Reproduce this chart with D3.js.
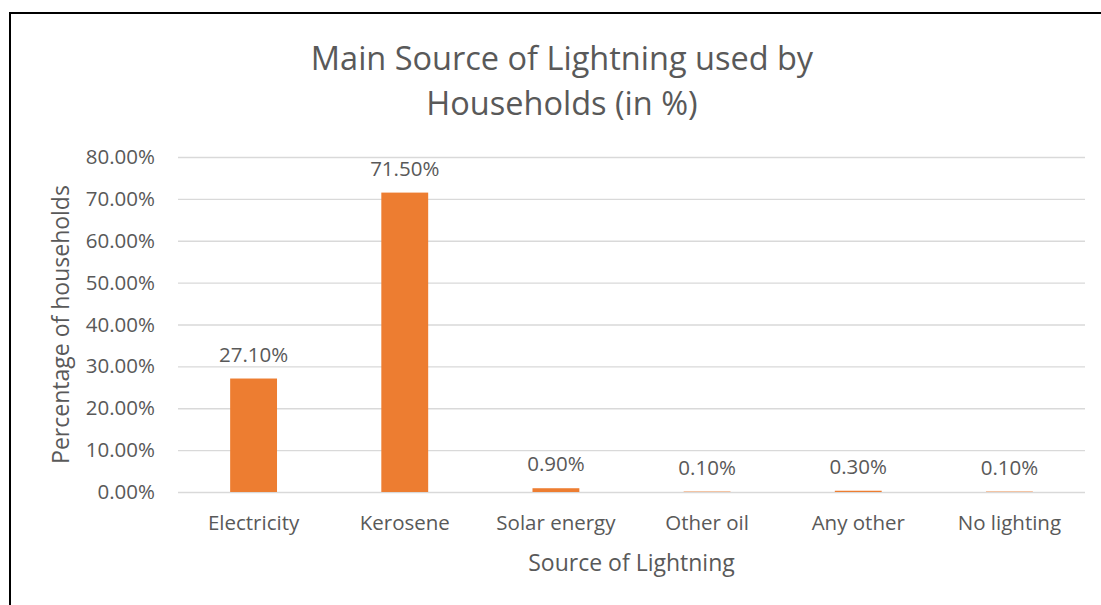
<!DOCTYPE html>
<html>
<head>
<meta charset="utf-8">
<script src="https://cdn.jsdelivr.net/npm/d3@7"></script>
<style>
  body { margin: 0; background: #fff; }
  text { font-family: "Open Sans", "Noto Sans", sans-serif; fill: #595959; }
</style>
</head>
<body>
<script>
// chart data
const categories = ["Electricity", "Kerosene", "Solar energy", "Other oil", "Any other", "No lighting"];
const values = [27.1, 71.5, 0.9, 0.1, 0.3, 0.1];
const yTicks = [0, 10, 20, 30, 40, 50, 60, 70, 80];
const titleLines = ["Main Source of Lightning used by", "Households (in %)"];

const W = 1101, H = 605;
const margin = { top: 157, right: 16, bottom: 113, left: 178 };
const width = W - margin.left - margin.right;
const height = H - margin.top - margin.bottom;
const fs = 20.5;

const svg = d3.select("body").append("svg")
    .attr("width", W)
    .attr("height", H);

// outer frame (only left and top edges show in the picture)
svg.append("path")
    .attr("d", "M10 " + H + " L10 13 L" + W + " 13")
    .attr("fill", "none")
    .attr("stroke", "#000")
    .attr("stroke-width", 2);

const g = svg.append("g")
    .attr("transform", "translate(" + margin.left + "," + margin.top + ")");

const x = d3.scaleBand()
    .domain(categories)
    .range([0, width])
    .paddingInner(0.69)
    .paddingOuter(0.345);

const y = d3.scaleLinear()
    .domain([0, 80])
    .range([height, 0]);

// grid lines + y labels
const yAxis = d3.axisLeft(y)
    .tickValues(yTicks)
    .tickSize(-width)
    .tickPadding(23)
    .tickFormat(d => d.toFixed(2) + "%");

g.append("g")
    .call(yAxis)
    .call(s => s.select(".domain").remove())
    .call(s => s.selectAll(".tick line").attr("stroke", "#d9d9d9").attr("stroke-width", 1.3))
    .call(s => s.selectAll(".tick text")
        .attr("font-size", fs)
        .attr("fill", "#595959")
        .style("font-family", "'Open Sans', sans-serif"));

// x labels
const xAxis = d3.axisBottom(x).tickSize(0).tickPadding(23);
g.append("g")
    .attr("transform", "translate(0," + height + ")")
    .call(xAxis)
    .call(s => s.select(".domain").remove())
    .call(s => s.selectAll(".tick text")
        .attr("font-size", fs)
        .attr("fill", "#595959")
        .style("font-family", "'Open Sans', sans-serif"));

// bars
g.selectAll(".bar")
    .data(values)
    .join("rect")
    .attr("class", "bar")
    .attr("x", (d, i) => x(categories[i]))
    .attr("y", d => y(d))
    .attr("width", x.bandwidth())
    .attr("height", d => height - y(d))
    .attr("fill", "#ed7d31");

// data labels
g.selectAll(".lbl")
    .data(values)
    .join("text")
    .attr("class", "lbl")
    .attr("x", (d, i) => x(categories[i]) + x.bandwidth() / 2)
    .attr("y", d => y(d) - 17)
    .attr("text-anchor", "middle")
    .attr("font-size", fs)
    .attr("fill", "#404040")
    .text(d => d.toFixed(2) + "%");

// title
svg.append("text")
    .attr("x", 562)
    .attr("y", 70)
    .attr("text-anchor", "middle")
    .attr("font-size", 32.5)
    .selectAll("tspan")
    .data(titleLines)
    .join("tspan")
    .attr("x", 562)
    .attr("dy", (d, i) => i ? 45 : 0)
    .text(d => d);

// axis titles
svg.append("text")
    .attr("x", margin.left + width / 2)
    .attr("y", 571)
    .attr("text-anchor", "middle")
    .attr("font-size", 23)
    .text("Source of Lightning");

svg.append("text")
    .attr("transform", "translate(69," + (margin.top + height / 2) + ") rotate(-90)")
    .attr("text-anchor", "middle")
    .attr("font-size", 23)
    .text("Percentage of households");
</script>
</body>
</html>
